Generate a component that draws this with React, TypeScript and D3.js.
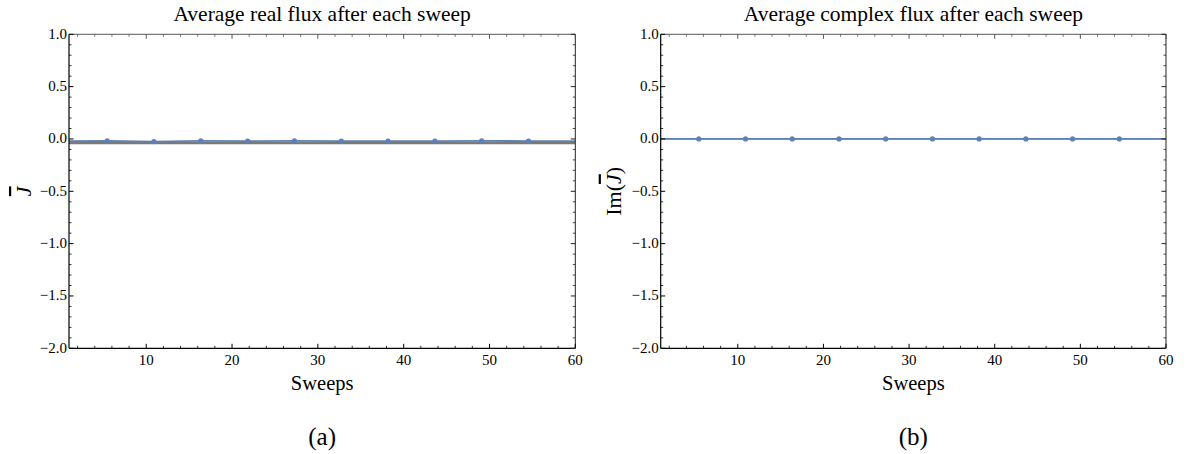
import React from 'react';
import * as d3 from 'd3';

// sweep positions of the plotted markers, plus the two ends of the line
const sweeps = [1, 5.45, 10.9, 16.36, 21.82, 27.27, 32.73, 38.18, 43.64, 49.09, 54.55, 60];
const realFlux = [-0.021, -0.018, -0.025, -0.019, -0.02, -0.019, -0.02, -0.02, -0.02, -0.019, -0.02, -0.02];
const imagFlux = [0, 0, 0, 0, 0, 0, 0, 0, 0, 0, 0, 0];
const realReference = -0.038;
const imagReference = 0;
const xTicks = [10, 20, 30, 40, 50, 60];
const yTicks = [1.0, 0.5, 0.0, -0.5, -1.0, -1.5, -2.0];

const blue = '#5e81b5';
const font = '"Liberation Serif", serif';

function fmt(v) {
  const s = v.toFixed(1);
  return v < 0 ? '\u2212' + s.slice(1) : s;
}

function Panel({ left, right, title, ylabel, labelOffset, caption, values, reference, refWidth }) {
  const top = 34.3, bottom = 348.3;
  const x = d3.scaleLinear().domain([1, 60]).range([left, right]);
  const y = d3.scaleLinear().domain([-2, 1]).range([bottom, top]);
  const line = d3.line().x((d) => x(d[0])).y((d) => y(d[1]));
  const pts = sweeps.map((s, i) => [s, values[i]]);
  const minorX = d3.range(2, 60, 2).filter((v) => v % 10 !== 0);
  const minorY = d3.range(-19, 10).map((v) => v / 10).filter((v) => Math.abs(v * 2 - Math.round(v * 2)) > 1e-6);
  const cx = (left + right) / 2;
  const clipId = 'clip' + Math.round(left);
  return (
    <g>
      <clipPath id={clipId}>
        <rect x={left} y={top} width={right - left} height={bottom - top} />
      </clipPath>
      <text x={cx} y={21} textAnchor="middle" fontSize={21.5} fontFamily={font}>{title}</text>
      <g clipPath={`url(#${clipId})`}>
        <line x1={left} x2={right} y1={y(reference)} y2={y(reference)} stroke="#7a7a7a" strokeWidth={refWidth} />
        <path d={line(pts)} fill="none" stroke={blue} strokeWidth={1.8} />
        {pts.slice(1, -1).map((d, i) => (
          <circle key={i} cx={x(d[0])} cy={y(d[1])} r={2.6} fill={blue} />
        ))}
      </g>
      {/* frame */}
      <line x1={left} x2={right} y1={top} y2={top} stroke="#555" strokeWidth={1} />
      <line x1={right} x2={right} y1={top} y2={bottom} stroke="#222" strokeWidth={1} />
      <line x1={left} x2={left} y1={top} y2={bottom} stroke="#000" strokeWidth={1.2} />
      <line x1={left} x2={right} y1={bottom} y2={bottom} stroke="#000" strokeWidth={1.2} />
      {xTicks.map((t) => (
        <g key={'x' + t}>
          <line x1={x(t)} x2={x(t)} y1={bottom} y2={bottom - 4.5} stroke="#000" />
          <line x1={x(t)} x2={x(t)} y1={top} y2={top + 4.5} stroke="#555" />
          <text x={x(t)} y={bottom + 17} textAnchor="middle" fontSize={15} fontFamily={font}>{t}</text>
        </g>
      ))}
      {minorX.map((t) => (
        <g key={'mx' + t}>
          <line x1={x(t)} x2={x(t)} y1={bottom} y2={bottom - 2.5} stroke="#000" strokeWidth={0.8} />
          <line x1={x(t)} x2={x(t)} y1={top} y2={top + 2.5} stroke="#555" strokeWidth={0.8} />
        </g>
      ))}
      {yTicks.map((t) => (
        <g key={'y' + t}>
          <line x1={left} x2={left + 4.5} y1={y(t)} y2={y(t)} stroke="#000" />
          <line x1={right} x2={right - 4.5} y1={y(t)} y2={y(t)} stroke="#222" />
          <text x={left - 2} y={y(t) + 4.5} textAnchor="end" fontSize={15} fontFamily={font}>{fmt(t)}</text>
        </g>
      ))}
      {minorY.map((t) => (
        <g key={'my' + t}>
          <line x1={left} x2={left + 2.5} y1={y(t)} y2={y(t)} stroke="#000" strokeWidth={0.8} />
          <line x1={right} x2={right - 2.5} y1={y(t)} y2={y(t)} stroke="#222" strokeWidth={0.8} />
        </g>
      ))}
      <text x={cx} y={390} textAnchor="middle" fontSize={20.5} fontFamily={font}>Sweeps</text>
      <text x={cx} y={445} textAnchor="middle" fontSize={25} fontFamily={font}>{caption}</text>
      <text transform={`translate(${left - labelOffset},${y(-0.5)}) rotate(-90)`} textAnchor="middle" fontSize={22} fontFamily={font}>
        {ylabel}
      </text>
    </g>
  );
}

export default function App() {
  return (
    <svg width={1191} height={454} style={{ display: 'block', position: 'absolute', left: 0, top: 0 }}>
      <rect width={1191} height={454} fill="#fff" />
      <Panel left={69} right={575.3} title="Average real flux after each sweep"
        ylabel={<tspan fontStyle="italic" textDecoration="overline">J</tspan>} labelOffset={38}
        caption="(a)" values={realFlux} reference={realReference} refWidth={2.6} />
      <Panel left={660.7} right={1166} title="Average complex flux after each sweep"
        ylabel={<>Im(<tspan fontStyle="italic" textDecoration="overline">J</tspan>)</>} labelOffset={40}
        caption="(b)" values={imagFlux} reference={imagReference} refWidth={1.2} />
    </svg>
  );
}
